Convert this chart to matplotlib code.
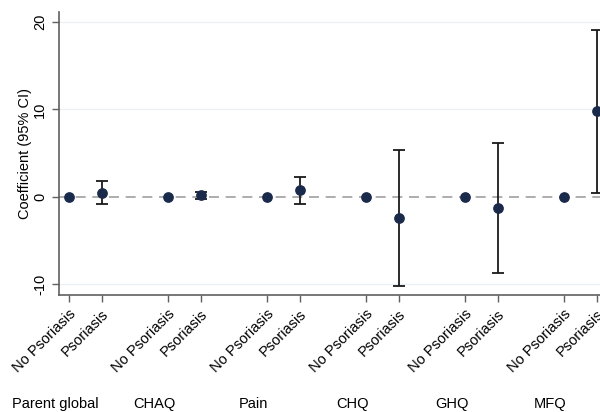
import numpy as np
import matplotlib.pyplot as plt

plt.rcParams['font.family'] = ['Liberation Sans', 'DejaVu Sans']

# outcomes and estimates (No Psoriasis is the reference group)
groups = ['Parent global', 'CHAQ', 'Pain', 'CHQ', 'GHQ', 'MFQ']
tick_labels = ['No Psoriasis', 'Psoriasis']
no_psor = [0, 0, 0, 0, 0, 0]
psor = [0.45, 0.15, 0.8, -2.4, -1.3, 9.8]
psor_lo = [-0.85, -0.3, -0.8, -10.2, -8.7, 0.45]
psor_hi = [1.8, 0.5, 2.3, 5.3, 6.1, 19.1]

pos = np.arange(len(groups)) * 3 + 1
x_no = pos
x_ps = pos + 1

fig = plt.figure(figsize=(6, 4.12), dpi=100)
ax = fig.add_axes([0.098, 0.284, 0.902, 0.687])

for yv in [-10, 10, 20]:
    ax.axhline(yv, color='#eaf0f5', lw=1, zorder=0)
ax.axhline(0, color='#a0a0a0', lw=1.2, ls=(0, (6, 4)), zorder=1)

psor = np.array(psor)
yerr = [psor - np.array(psor_lo), np.array(psor_hi) - psor]
ax.errorbar(x_ps, psor, yerr=yerr, fmt='none', ecolor='#1a1a1a', elinewidth=1.3,
            capsize=4, capthick=1.3, zorder=2)
ax.scatter(x_no, no_psor, s=45, color='#1a2a4a', zorder=3)
ax.scatter(x_ps, psor, s=45, color='#1a2a4a', zorder=3)

ax.set_xlim(0.7, 17.1)
ax.set_ylim(-11.26, 21.15)

xt = np.ravel(np.column_stack([x_no, x_ps]))
ax.set_xticks(xt)
ax.set_xticklabels(tick_labels * len(groups), rotation=45, ha='right',
                   rotation_mode='anchor', fontsize=10.5)
ax.set_yticks([-10, 0, 10, 20])
ax.set_yticklabels(['-10', '0', '10', '20'], rotation=90, va='center', fontsize=10.5)
ax.set_ylabel('Coefficient (95% CI)', fontsize=10.5, labelpad=1)

for s in ['top', 'right']:
    ax.spines[s].set_visible(False)
for s in ['left', 'bottom']:
    ax.spines[s].set_color('#606060')
    ax.spines[s].set_linewidth(1.2)
ax.tick_params(colors='#606060', labelcolor='black', length=5, width=1)

# group names under the tick labels
for p, g in zip(pos, groups):
    ax.text(p + 0.5 - 0.9, -0.385, g, transform=ax.get_xaxis_transform(),
            ha='center', va='center', fontsize=10.5)

fig.savefig('out.png', dpi=100)
